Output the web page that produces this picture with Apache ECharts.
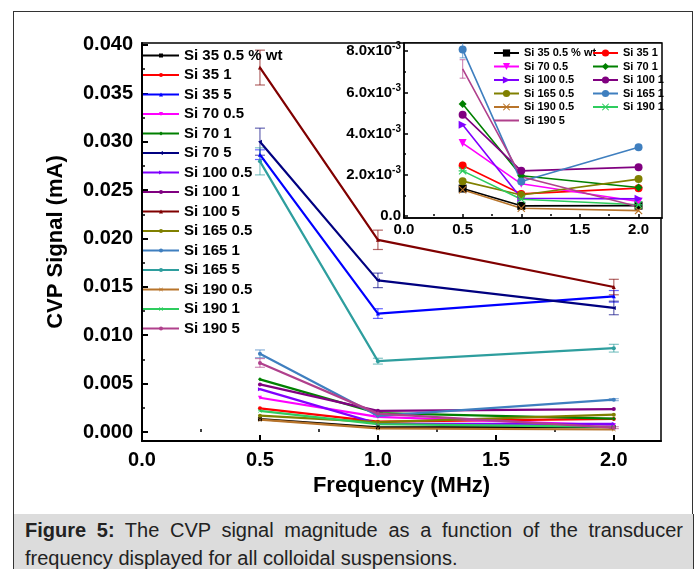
<!DOCTYPE html>
<html>
<head>
<meta charset="utf-8">
<script src="https://cdn.jsdelivr.net/npm/echarts@6/dist/echarts.min.js"></script>
<style>
  html, body { margin: 0; padding: 0; background: #fff; }
  #frame { position: absolute; left: 13px; top: 11px; width: 678px; height: 502px; border: 1px solid #333; }
  #caption {
    position: absolute; left: 13px; top: 514px; width: 658px; height: 60px;
    padding: 2px 10px 0 11px; background: #dcdcdc;
    border-left: 1px solid #333; border-right: 1px solid #333;
    font-family: "Liberation Sans", Arial, sans-serif; font-size: 20px; line-height: 28px; color: #222;
  }
  #caption .l1 { text-align: justify; text-align-last: justify; white-space: nowrap; }
  #caption b { font-weight: bold; }
  #chart { position: absolute; left: 0; top: 0; width: 697px; height: 569px; }
</style>
</head>
<body>
<div id="frame"></div>
<div id="caption"><div class="l1"><b>Figure 5:</b> The CVP signal magnitude as a function of the transducer</div><div>frequency displayed for all colloidal suspensions.</div></div>
<div id="chart"></div>
<script>
// transducer frequency (MHz)
const freqs = [0.5, 1.0, 2.0];

// CVP signal (mA) per sample
const si35_05 = [0.00133, 0.00049, 0.00050];
const si35_1 = [0.00245, 0.00107, 0.00135];
const si35_5 = [0.02866, 0.01224, 0.01402];
const si70_05 = [0.00354, 0.00156, 0.00070];
const si70_1 = [0.00544, 0.00195, 0.00138];
const si70_5 = [0.03000, 0.01567, 0.01282];
const si100_05 = [0.00443, 0.00086, 0.00083];
const si100_1 = [0.00492, 0.00219, 0.00237];
const si100_5 = [0.03766, 0.01986, 0.01498];
const si165_05 = [0.00169, 0.00102, 0.00179];
const si165_1 = [0.00808, 0.00167, 0.00334];
const si165_5 = [0.02797, 0.00732, 0.00866];
const si190_05 = [0.00127, 0.00037, 0.00026];
const si190_1 = [0.00219, 0.00081, 0.00054];
const si190_5 = [0.00714, 0.00190, 0.00045];

// error bars (only the visible ones)
const err35_5 = [0.0005, 0.0005, 0.0006];
const err70_5 = [0.0014, 0.00075, 0.0007];
const err100_5 = [0.0018, 0.0010, 0.0008];
const err165_5 = [0.0014, 0.0003, 0.0004];
const err165_1 = [0.0004, 0.0001, 0.0001];
const err190_5 = [0.00045, 0.0001, 0.0001];

// tick labels
const mainXTicks = [0, 0.5, 1.0, 1.5, 2.0];
const mainYTicks = [0, 0.005, 0.010, 0.015, 0.020, 0.025, 0.030, 0.035, 0.040];
const insetYTicks = [0, 0.002, 0.004, 0.006, 0.008];

const xPath = 'path://M1,0L5,4L9,0L10,1L6,5L10,9L9,10L5,6L1,10L0,9L4,5L0,1Z';
const starPath = 'path://M1,0L5,4L9,0L10,1L6,5L10,9L9,10L5,6L1,10L0,9L4,5L0,1Z M0,4.3L10,4.3L10,5.7L0,5.7Z';

const samples = [
  { name: 'Si 35 0.5 % wt', data: si35_05, color: '#000000', symbol: 'rect', inset: true },
  { name: 'Si 35 1', data: si35_1, color: '#ff0000', symbol: 'circle', inset: true },
  { name: 'Si 35 5', data: si35_5, color: '#0000ff', symbol: 'triangle', err: err35_5 },
  { name: 'Si 70 0.5', data: si70_05, color: '#ff00ff', symbol: 'triangle', rotate: 180, inset: true },
  { name: 'Si 70 1', data: si70_1, color: '#008000', symbol: 'diamond', inset: true },
  { name: 'Si 70 5', data: si70_5, color: '#000080', symbol: 'triangle', rotate: 90, err: err70_5 },
  { name: 'Si 100 0.5', data: si100_05, color: '#8000ff', symbol: 'triangle', rotate: -90, inset: true },
  { name: 'Si 100 1', data: si100_1, color: '#800080', symbol: 'circle', inset: true },
  { name: 'Si 100 5', data: si100_5, color: '#800000', symbol: 'triangle', err: err100_5 },
  { name: 'Si 165 0.5', data: si165_05, color: '#808000', symbol: 'circle', inset: true },
  { name: 'Si 165 1', data: si165_1, color: '#3f7fbf', symbol: 'circle', inset: true, err: err165_1 },
  { name: 'Si 165 5', data: si165_5, color: '#2e9e9e', symbol: 'circle', err: err165_5 },
  { name: 'Si 190 0.5', data: si190_05, color: '#b8742a', symbol: xPath, inset: true },
  { name: 'Si 190 1', data: si190_1, color: '#2ecc5e', symbol: starPath, inset: true },
  { name: 'Si 190 5', data: si190_5, color: '#b0408c', symbol: 'none', inset: true, err: err190_5 }
];

const FONT = 'Liberation Sans';

function errSeries(vals, errs, color, xi, yi, cap) {
  return {
    type: 'custom', xAxisIndex: xi, yAxisIndex: yi, silent: true, clip: true, z: 1,
    data: freqs.map((f, i) => [f, vals[i], errs[i]]),
    renderItem: (params, api) => {
      const x = api.value(0), y = api.value(1), e = api.value(2);
      const t = api.coord([x, y + e]), b = api.coord([x, y - e]);
      const st = { stroke: color, lineWidth: 1.2, opacity: 0.6 };
      return { type: 'group', children: [
        { type: 'line', shape: { x1: t[0], y1: t[1], x2: b[0], y2: b[1] }, style: st },
        { type: 'line', shape: { x1: t[0] - cap, y1: t[1], x2: t[0] + cap, y2: t[1] }, style: st },
        { type: 'line', shape: { x1: b[0] - cap, y1: b[1], x2: b[0] + cap, y2: b[1] }, style: st }
      ]};
    }
  };
}

const series = [];
samples.forEach(s => {
  if (s.err) series.push(errSeries(s.data, s.err, s.color, 0, 0, 5));
  series.push({
    name: s.name, type: 'line', xAxisIndex: 0, yAxisIndex: 0,
    data: freqs.map((f, i) => [f, s.data[i]]),
    symbol: s.symbol === 'none' ? 'circle' : s.symbol, symbolSize: 4, symbolRotate: s.rotate || 0,
    showSymbol: true,
    lineStyle: { color: s.color, width: 2.2 }, itemStyle: { color: s.color }
  });
});
samples.filter(s => s.inset).forEach(s => {
  if (s.err) series.push(errSeries(s.data, s.err, s.color, 1, 1, 3));
  series.push({
    name: 'i:' + s.name, type: 'line', xAxisIndex: 1, yAxisIndex: 1, clip: true,
    data: freqs.map((f, i) => [f, s.data[i]]),
    symbol: s.symbol, symbolSize: 8, symbolRotate: s.rotate || 0,
    lineStyle: { color: s.color, width: 1.6 }, itemStyle: { color: s.color }
  });
});

// inset legend: two columns, marker-less entries hide their symbol
function legendItem(s) {
  const item = { name: 'i:' + s.name };
  if (s.symbol === 'none') item.itemStyle = { opacity: 0 };
  return item;
}
const insetLeft = samples.filter(s => s.inset && (s.name.indexOf(' 0.5') > 0 || s.name === 'Si 190 5')).map(legendItem);
const insetRight = samples.filter(s => s.inset && !(s.name.indexOf(' 0.5') > 0 || s.name === 'Si 190 5')).map(legendItem);

const labelStyle = { fontFamily: FONT, fontWeight: 'bold', color: '#000' };

function minorAxis(grid, vals, min, max, len, pos) {
  return {
    type: 'value', gridIndex: grid, min: min, max: max, position: pos,
    axisLine: { show: false }, axisLabel: { show: false }, splitLine: { show: false },
    axisTick: { show: true, inside: true, length: len, customValues: vals, lineStyle: { color: '#000', width: 1.5 } }
  };
}

const chart = echarts.init(document.getElementById('chart'));
chart.setOption({
  animation: false,
  grid: [
    { left: 142, right: 36, top: 43, bottom: 128, show: true, borderColor: '#000', borderWidth: 1.5 },
    { left: 404, right: 35, top: 43, bottom: 351, show: true, backgroundColor: '#fff', borderColor: '#000', borderWidth: 1.5 }
  ],
  legend: [
    {
      data: samples.map(s => s.name), orient: 'vertical', left: 142, top: 48, padding: 0,
      itemWidth: 36, itemHeight: 5, itemGap: 4.5, selectedMode: false,
      textStyle: Object.assign({ fontSize: 15, lineHeight: 15 }, labelStyle)
    },
    {
      data: insetLeft, orient: 'vertical', left: 493, top: 47, padding: 0,
      itemWidth: 25, itemHeight: 9, itemGap: 1.5, selectedMode: false,
      formatter: n => n.slice(2),
      textStyle: Object.assign({ fontSize: 11, lineHeight: 12 }, labelStyle)
    },
    {
      data: insetRight, orient: 'vertical', left: 592, top: 47, padding: 0,
      itemWidth: 25, itemHeight: 9, itemGap: 1.5, selectedMode: false,
      formatter: n => n.slice(2),
      textStyle: Object.assign({ fontSize: 11, lineHeight: 12 }, labelStyle)
    }
  ],
  xAxis: [
    {
      type: 'value', gridIndex: 0, min: 0, max: 2.2, position: 'bottom',
      name: 'Frequency (MHz)', nameLocation: 'middle', nameGap: 31,
      nameTextStyle: Object.assign({ fontSize: 22 }, labelStyle),
      axisLine: { onZero: false, lineStyle: { color: '#000', width: 2 } },
      axisTick: { inside: true, length: 6, customValues: mainXTicks, lineStyle: { color: '#000', width: 2 } },
      axisLabel: Object.assign({ customValues: mainXTicks, formatter: v => v.toFixed(1), fontSize: 20, margin: 9 }, labelStyle),
      splitLine: { show: false }
    },
    {
      type: 'value', gridIndex: 1, min: 0, max: 2.2, position: 'bottom',
      axisLine: { onZero: false, lineStyle: { color: '#000', width: 1.5 } },
      axisTick: { inside: true, length: 4, customValues: mainXTicks, lineStyle: { color: '#000', width: 1.5 } },
      axisLabel: Object.assign({ customValues: mainXTicks, formatter: v => v.toFixed(1), fontSize: 15, margin: 4 }, labelStyle),
      splitLine: { show: false }
    },
    minorAxis(0, [0.25, 0.75, 1.25, 1.75], 0, 2.2, 3, 'bottom'),
    minorAxis(1, [0.25, 0.75, 1.25, 1.75], 0, 2.2, 2, 'bottom')
  ],
  yAxis: [
    {
      type: 'value', gridIndex: 0, min: -0.00093, max: 0.0402, position: 'left',
      name: 'CVP Signal (mA)', nameLocation: 'middle', nameGap: 75,
      nameTextStyle: Object.assign({ fontSize: 22 }, labelStyle),
      axisLine: { show: true, onZero: false, lineStyle: { color: '#000', width: 2 } },
      axisTick: { show: true, inside: true, length: 6, customValues: mainYTicks, lineStyle: { color: '#000', width: 2 } },
      axisLabel: Object.assign({ customValues: mainYTicks, formatter: v => v.toFixed(3), fontSize: 20, margin: 9 }, labelStyle),
      splitLine: { show: false }
    },
    {
      type: 'value', gridIndex: 1, min: -0.0001, max: 0.0084, position: 'left',
      axisLine: { show: true, onZero: false, lineStyle: { color: '#000', width: 1.5 } },
      axisTick: { show: true, inside: true, length: 4, customValues: insetYTicks, lineStyle: { color: '#000', width: 1.5 } },
      axisLabel: {
        customValues: insetYTicks, margin: 3,
        formatter: v => v === 0 ? '{b|0.0}' : '{b|' + (v * 1000).toFixed(1) + 'x10}{sup|-3}',
        rich: {
          b: Object.assign({ fontSize: 15 }, labelStyle),
          sup: Object.assign({ fontSize: 10, padding: [0, 0, 9, 0] }, labelStyle)
        }
      },
      splitLine: { show: false }
    },
    minorAxis(0, mainYTicks.slice(0, 8).map(v => v + 0.0025), -0.00093, 0.0402, 3, 'left'),
    minorAxis(1, [0.001, 0.003, 0.005, 0.007], -0.0001, 0.0084, 2, 'left')
  ],
  series: series
});
</script>
</body>
</html>
